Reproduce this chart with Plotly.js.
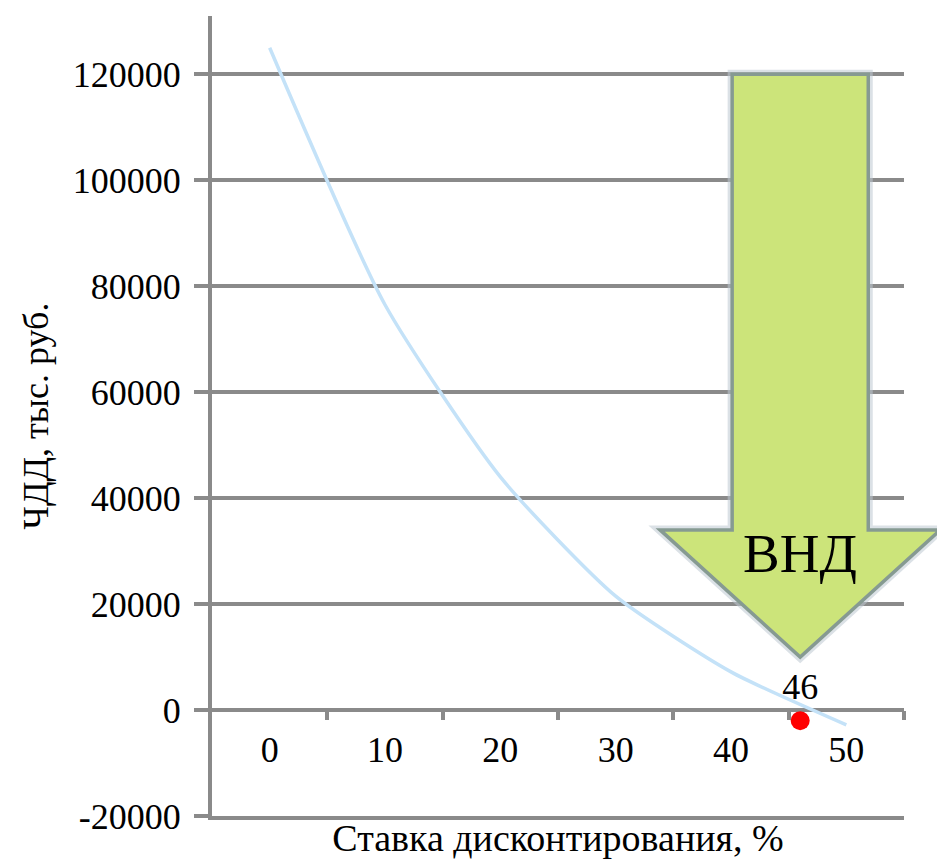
<!DOCTYPE html>
<html>
<head>
<meta charset="utf-8">
<script src="https://cdn.plot.ly/plotly-3.0.1.min.js"></script>
<style>
  html, body { margin: 0; padding: 0; background: #ffffff; }
  #chart { width: 937px; height: 859px; }
</style>
</head>
<body>
<div id="chart"></div>
<script>
// Discount rate, % and net present value, thousand rubles
const rates = [0, 10, 20, 30, 40, 50];
const npv = [125000, 76500, 44000, 21500, 7200, -2800];
const rateLabels = ['0', '10', '20', '30', '40', '50'];

// Internal rate of return point
const irr = [46];
const irrNpv = [-2000];
const irrLabels = ['46'];

const yTicks = [-20000, 0, 20000, 40000, 60000, 80000, 100000, 120000];
const yTickLabels = ['-20000', '0', '20000', '40000', '60000', '80000', '100000', '120000'];
const boundaryTicks = [5, 15, 25, 35, 45, 55];

const xRange = [-5, 55];
const yRange = [-20000, 131000];

const grey = '#8a8a8a';
const serif = '"Liberation Serif", "Times New Roman", Times, serif';

// paper coordinates from data values (the arrow head reaches past the plot edge)
const px = v => (v - xRange[0]) / (xRange[1] - xRange[0]);
const py = v => (v - yRange[0]) / (yRange[1] - yRange[0]);

// block arrow pointing down at the IRR
const shaftHalf = 5.9, headHalf = 12.15;
const arrowTop = 120000, arrowShoulder = 34000, arrowTip = 10000;
const c = irr[0];
const arrowPath = [
  'M', px(c - shaftHalf), py(arrowTop),
  'L', px(c + shaftHalf), py(arrowTop),
  'L', px(c + shaftHalf), py(arrowShoulder),
  'L', px(c + headHalf), py(arrowShoulder),
  'L', px(c), py(arrowTip),
  'L', px(c - headHalf), py(arrowShoulder),
  'L', px(c - shaftHalf), py(arrowShoulder),
  'Z'
].join(' ');

const traces = [
  {
    x: rates, y: npv,
    xaxis: 'x2', yaxis: 'y',
    type: 'scatter', mode: 'lines',
    line: { color: '#c4e2f8', width: 3.5, shape: 'spline', smoothing: 0.6 },
    hoverinfo: 'skip', showlegend: false
  },
  {
    x: irr, y: irrNpv,
    xaxis: 'x', yaxis: 'y',
    type: 'scatter', mode: 'markers+text',
    marker: { color: '#ff0000', size: 19 },
    text: irrLabels, textposition: 'top center',
    textfont: { family: serif, size: 36, color: '#000000' },
    cliponaxis: false, hoverinfo: 'skip', showlegend: false
  }
];

const layout = {
  width: 937, height: 859,
  margin: { l: 212, r: 33, t: 16, b: 43 },
  paper_bgcolor: '#ffffff', plot_bgcolor: '#ffffff',
  showlegend: false,
  font: { family: serif, color: '#000000' },
  xaxis: {
    range: xRange,
    showticklabels: false, ticks: '', showgrid: false, zeroline: false,
    showline: true, linecolor: grey, linewidth: 4,
    title: { text: 'Ставка дисконтирования, %', font: { family: serif, size: 38, color: '#000000' }, standoff: 10 },
    automargin: false
  },
  xaxis2: {
    overlaying: 'x', anchor: 'free', position: py(0),
    range: xRange,
    tickmode: 'array', tickvals: rates, ticktext: rateLabels,
    ticks: '', ticklabelstandoff: 15,
    tickfont: { family: serif, size: 36, color: '#000000' },
    minor: { tickmode: 'array', tickvals: boundaryTicks, ticks: 'outside', ticklen: 9, tickwidth: 4, tickcolor: grey, showgrid: false },
    showgrid: false, zeroline: false, showline: false,
    automargin: false
  },
  yaxis: {
    range: yRange,
    tickmode: 'array', tickvals: yTicks, ticktext: yTickLabels,
    ticks: 'outside', ticklen: 14, tickwidth: 4, tickcolor: grey,
    ticklabelstandoff: 6,
    tickfont: { family: serif, size: 36, color: '#000000' },
    showgrid: true, gridcolor: grey, gridwidth: 4,
    zeroline: false,
    showline: true, linecolor: grey, linewidth: 4,
    title: { text: 'ЧДД, тыс. руб.', font: { family: serif, size: 36, color: '#000000' }, standoff: 14 },
    automargin: false
  },
  shapes: [
    {
      type: 'path', xref: 'paper', yref: 'paper', layer: 'above',
      path: arrowPath,
      fillcolor: 'rgba(0,0,0,0)',
      line: { color: 'rgba(190,200,210,0.55)', width: 9 }
    },
    {
      type: 'path', xref: 'paper', yref: 'paper', layer: 'above',
      path: arrowPath,
      fillcolor: '#cce47a',
      line: { color: '#869a92', width: 3.5 }
    }
  ],
  annotations: [
    {
      x: c, y: 29500, xref: 'x', yref: 'y',
      text: 'ВНД', showarrow: false,
      font: { family: serif, size: 55, color: '#000000' },
      xanchor: 'center', yanchor: 'middle'
    }
  ]
};

Plotly.newPlot('chart', traces, layout, { displayModeBar: false, staticPlot: true });
</script>
</body>
</html>
